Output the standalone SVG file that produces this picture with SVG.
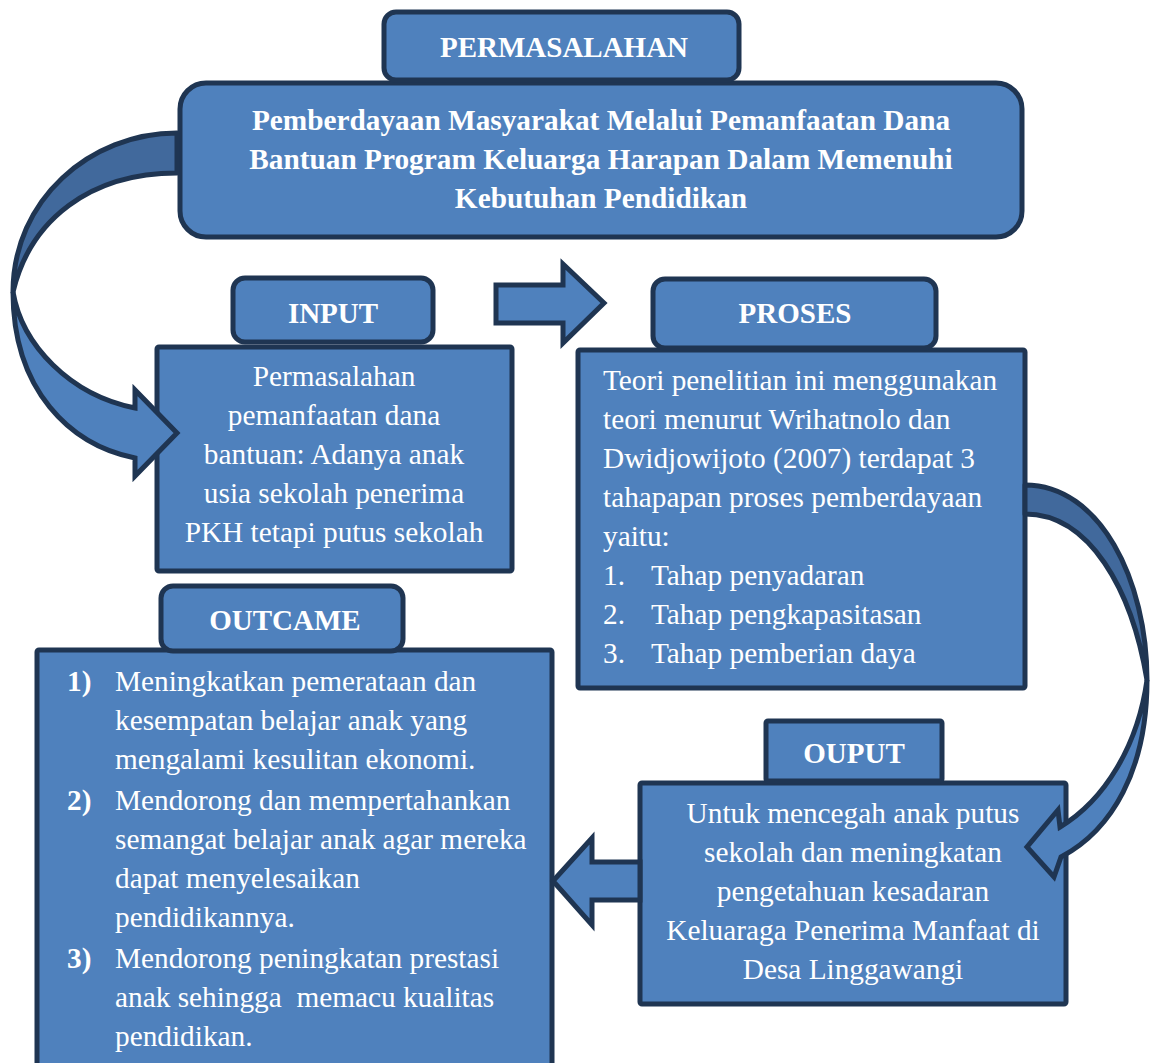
<svg xmlns="http://www.w3.org/2000/svg" width="1157" height="1063" viewBox="0 0 1157 1063">
<style>
.box{fill:#4F81BD;stroke:#1F3552;stroke-width:5}
.dark{fill:#41699C;stroke:#1F3552;stroke-width:5;stroke-linejoin:round}
.arr{fill:#4F81BD;stroke:#1F3552;stroke-width:5;stroke-linejoin:miter}
text{font-family:"Liberation Serif","Times New Roman",serif;fill:#FFFFFF}
.h{font-size:29px;font-weight:bold;text-anchor:middle}
.t{font-size:29.3px;font-weight:bold;text-anchor:middle}
.b{font-size:29.3px}
.c{font-size:29.3px;text-anchor:middle}
.n{font-size:29.3px;font-weight:bold}
</style>
<rect width="1157" height="1063" fill="#FFFFFF"/>
<g id="permasalahan-body">
<rect class="box" x="180" y="83" width="842" height="154" rx="26"/>
<text class="t" x="601" y="130">Pemberdayaan Masyarakat Melalui Pemanfaatan Dana</text>
<text class="t" x="601" y="169">Bantuan Program Keluarga Harapan Dalam Memenuhi</text>
<text class="t" x="601" y="208">Kebutuhan Pendidikan</text>
</g>
<g id="permasalahan">
<rect class="box" x="384" y="12" width="355" height="68" rx="12"/>
<text class="h" x="564" y="57">PERMASALAHAN</text>
</g>
<g id="input-body">
<rect class="box" x="157" y="347" width="355" height="224" rx="2"/>
<text class="c" x="334" y="386">Permasalahan</text>
<text class="c" x="334" y="425">pemanfaatan dana</text>
<text class="c" x="334" y="464">bantuan: Adanya anak</text>
<text class="c" x="334" y="503">usia sekolah penerima</text>
<text class="c" x="334" y="542">PKH tetapi putus sekolah</text>
</g>
<g id="input">
<rect class="box" x="233" y="278" width="200" height="64" rx="12"/>
<text class="h" x="333" y="323">INPUT</text>
</g>
<g id="proses-body">
<rect class="box" x="578" y="350" width="447" height="338" rx="2"/>
<text class="b" x="603" y="390">Teori penelitian ini menggunakan</text>
<text class="b" x="603" y="429">teori menurut Wrihatnolo dan</text>
<text class="b" x="603" y="468">Dwidjowijoto (2007) terdapat 3</text>
<text class="b" x="603" y="507">tahapapan proses pemberdayaan</text>
<text class="b" x="603" y="546">yaitu:</text>
<text class="b" x="603" y="585">1.</text><text class="b" x="651" y="585">Tahap penyadaran</text>
<text class="b" x="603" y="624">2.</text><text class="b" x="651" y="624">Tahap pengkapasitasan</text>
<text class="b" x="603" y="663">3.</text><text class="b" x="651" y="663">Tahap pemberian daya</text>
</g>
<g id="proses">
<rect class="box" x="653" y="279" width="283" height="69" rx="12"/>
<text class="h" x="795" y="323">PROSES</text>
</g>
<g id="outcame-body">
<rect class="box" x="37" y="650" width="515" height="430" rx="2"/>
<text class="n" x="67" y="691">1)</text>
<text class="b" x="115" y="691">Meningkatkan pemerataan dan</text>
<text class="b" x="115" y="730">kesempatan belajar anak yang</text>
<text class="b" x="115" y="769">mengalami kesulitan ekonomi.</text>
<text class="n" x="67" y="810">2)</text>
<text class="b" x="115" y="810">Mendorong dan mempertahankan</text>
<text class="b" x="115" y="849">semangat belajar anak agar mereka</text>
<text class="b" x="115" y="888">dapat menyelesaikan</text>
<text class="b" x="115" y="927">pendidikannya.</text>
<text class="n" x="67" y="968">3)</text>
<text class="b" x="115" y="968">Mendorong peningkatan prestasi</text>
<text class="b" x="115" y="1007" xml:space="preserve">anak sehingga  memacu kualitas</text>
<text class="b" x="115" y="1046">pendidikan.</text>
</g>
<g id="outcame">
<rect class="box" x="161" y="586" width="242" height="65" rx="12"/>
<text class="h" x="285" y="630">OUTCAME</text>
</g>
<g id="ouput-body">
<rect class="box" x="640" y="783" width="426" height="221" rx="2"/>
<text class="c" x="853" y="823">Untuk mencegah anak putus</text>
<text class="c" x="853" y="862">sekolah dan meningkatan</text>
<text class="c" x="853" y="901">pengetahuan kesadaran</text>
<text class="c" x="853" y="940">Keluaraga Penerima Manfaat di</text>
<text class="c" x="853" y="979">Desa Linggawangi</text>
</g>
<g id="ouput">
<rect class="box" x="766" y="721" width="176" height="60" rx="2"/>
<text class="h" x="854" y="763">OUPUT</text>
</g>
<g id="connectors">
<path class="arr" d="M13,292 C13,390 70,445 135,458 L135,476 L177,433 L135,390 L135,408 C70,395 22,345 13,292 Z"/>
<path class="dark" d="M177,133 L177,173 C90,173 30,220 13,292 C13,200 90,133 177,133 Z"/>
<path class="arr" d="M1147,680 C1147,770 1112,830 1061,857 L1054,877 L1027,847 L1058,810 L1060,827 C1105,800 1138,745 1147,680 Z"/>
<path class="dark" d="M1025,485 C1100,485 1147,580 1147,680 C1132,590 1090,514 1025,514 Z"/>
<path class="arr" d="M496,285 L563,285 L563,264 L604,303 L563,343 L563,323 L496,323 Z"/>
<path class="arr" d="M640,862 L592,862 L592,838 L553,881 L592,925 L592,900 L640,900 Z"/>
</g>
</svg>
